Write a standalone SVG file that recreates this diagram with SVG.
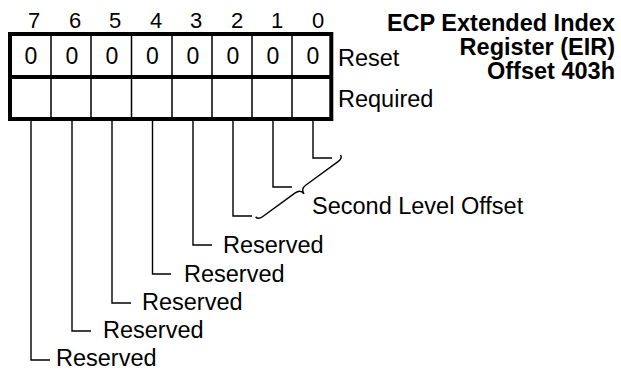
<svg xmlns="http://www.w3.org/2000/svg" width="621" height="370" viewBox="0 0 621 370">
<style>
  text { font-family: "Liberation Sans", Arial, sans-serif; font-size: 23.5px; fill: #000; }
  .bit { font-size: 22px; text-anchor: middle; }
  .val { font-size: 23px; text-anchor: middle; }
  .title { font-weight: bold; font-size: 23.5px; text-anchor: end; }
  .thick { fill: none; stroke: #000; stroke-width: 4; }
  .thin { fill: none; stroke: #000; stroke-width: 1.5; }
  .lead { fill: none; stroke: #000; stroke-width: 1.4; }
</style>
<rect width="621" height="370" fill="#fff"/>

<g id="title">
  <text class="title" x="615" y="31">ECP Extended Index</text>
  <text class="title" x="615" y="55">Register (EIR)</text>
  <text class="title" x="615" y="79">Offset 403h</text>
</g>

<g id="bit-numbers">
  <text class="bit" x="34" y="28">7</text>
  <text class="bit" x="75" y="28">6</text>
  <text class="bit" x="115" y="28">5</text>
  <text class="bit" x="156" y="28">4</text>
  <text class="bit" x="196" y="28">3</text>
  <text class="bit" x="237" y="28">2</text>
  <text class="bit" x="277" y="28">1</text>
  <text class="bit" x="318" y="28">0</text>
</g>

<g id="register">
  <path class="thin" d="M51,34V119M91,34V119M131.5,34V119M172,34V119M212,34V119M252,34V119M292,34V119"/>
  <rect class="thick" x="10" y="34" width="321.3" height="85"/>
  <line class="thick" x1="10" y1="77" x2="331.3" y2="77"/>
  <text class="val" x="31" y="64">0</text>
  <text class="val" x="72" y="64">0</text>
  <text class="val" x="112" y="64">0</text>
  <text class="val" x="152.5" y="64">0</text>
  <text class="val" x="193" y="64">0</text>
  <text class="val" x="233" y="64">0</text>
  <text class="val" x="273" y="64">0</text>
  <text class="val" x="313" y="64">0</text>
</g>

<g id="row-labels">
  <text x="338" y="66">Reset</text>
  <text x="338" y="107">Required</text>
</g>

<g id="connectors">
  <path class="lead" d="M313,121V158H332"/>
  <path class="lead" d="M273,121V187H292"/>
  <path class="lead" d="M233,121V216H252"/>
  <path class="lead" d="M193,121V245H212"/>
  <path class="lead" d="M152.5,121V274H171"/>
  <path class="lead" d="M112,121V303H131"/>
  <path class="lead" d="M72,121V331H91"/>
  <path class="lead" d="M31,121V360H50"/>
  <path class="lead" transform="translate(258,220) rotate(-36.1)" d="M0,-4C0,-1 2,0 6,0L46,0C50,0 52.6,2 52.6,6C52.6,2 55,0 59,0L99,0C103,0 105,-1 105,-4"/>
</g>

<g id="labels">
  <text x="312" y="214">Second Level Offset</text>
  <text x="223" y="253">Reserved</text>
  <text x="184" y="282">Reserved</text>
  <text x="142" y="310">Reserved</text>
  <text x="103" y="338">Reserved</text>
  <text x="56" y="366">Reserved</text>
</g>
</svg>
